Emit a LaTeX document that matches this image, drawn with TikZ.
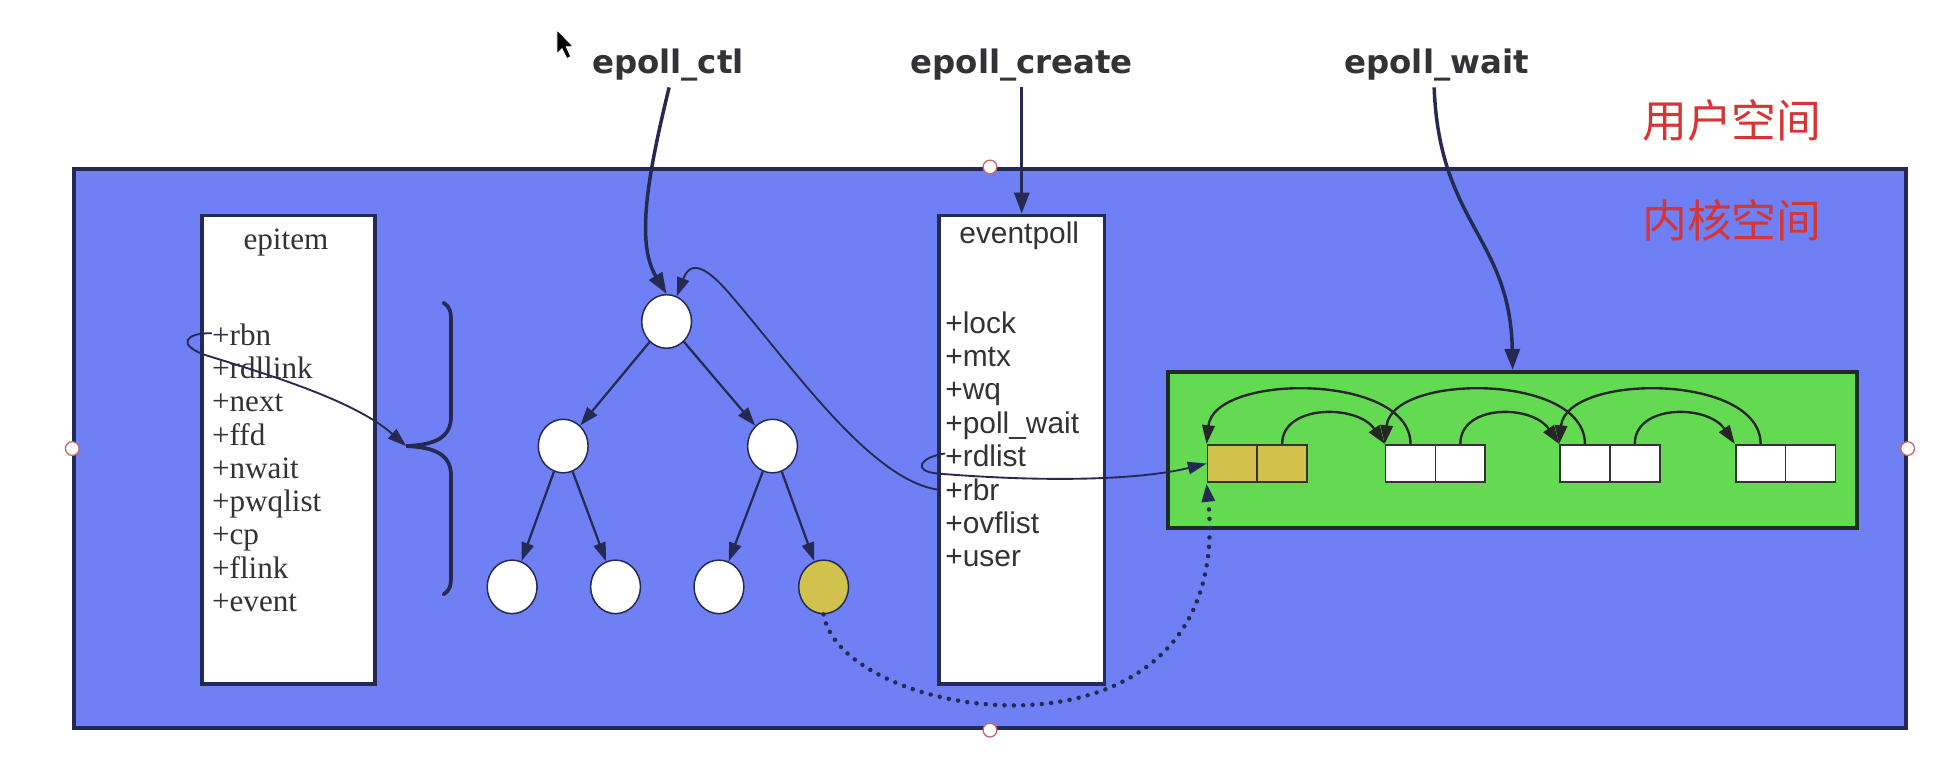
\documentclass[tikz,border=0pt]{standalone}
\usepackage{fontspec}
\setmainfont{Liberation Sans}
\newfontfamily\titlefont{DejaVu Sans}
\newfontfamily\itemfont{Liberation Serif}
\newfontfamily\cjk{Noto Sans CJK SC}
\usetikzlibrary{arrows.meta,calc,shapes.geometric}
\definecolor{bluebg}{RGB}{110,128,243}
\definecolor{navy}{RGB}{38,42,82}
\definecolor{greenbg}{RGB}{99,218,82}
\definecolor{greenline}{RGB}{30,45,35}
\definecolor{yel}{RGB}{208,194,76}
\definecolor{redtxt}{RGB}{215,52,52}
\definecolor{txt}{RGB}{50,50,55}
\definecolor{handlecol}{RGB}{205,100,100}
\begin{document}
\begin{tikzpicture}[x=1pt,y=-1pt,
  tipA/.style={-{Triangle[length=17pt,width=12pt]}},
  tipB/.style={-{Triangle[length=15pt,width=10pt]}},
  call/.style={draw=navy,line width=2.8pt,tipA},
  tree/.style={draw=navy,line width=1.8pt,tipB},
  thinlink/.style={draw=navy,line width=1.5pt,tipB},
  link/.style={draw=black!85,line width=1.9pt,tipB},
  dotline/.style={draw=navy,line width=3.6pt,line cap=round,dash pattern=on 0pt off 7.5pt,tipB},
  fnlabel/.style={font=\titlefont\bfseries\fontsize{26}{30}\selectfont, text=txt, inner sep=0},
  cjklabel/.style={font=\cjk\fontsize{36}{40}\selectfont, text=redtxt, inner sep=0},
  structbox/.style={draw=navy, fill=white, line width=3pt, inner sep=0, anchor=north west},
  eptext/.style={font=\itemfont\fontsize{25}{27}\selectfont, text=txt, inner sep=0},
  evtext/.style={font=\fontsize{24}{27}\selectfont, text=txt, inner sep=0},
  rbnode/.style={ellipse, draw=navy, fill=white, line width=1.2pt, minimum width=40pt, minimum height=43pt, inner sep=0},
  cell/.style={draw=black!80, line width=1.4pt, minimum width=40pt, minimum height=30pt, inner sep=0, fill=white},
  handlept/.style={circle, draw=handlecol, fill=white, line width=1pt, minimum size=11pt, inner sep=0},
]
\useasboundingbox (0,0) rectangle (1565,613);

% kernel space
\node[draw=navy, fill=bluebg, line width=3pt, minimum width=1470pt, minimum height=449pt, inner sep=0, anchor=north west] (kernel) at (58,134) {};
\node[handlept] (hn) at (kernel.north) {};
\node[handlept] (hs) at (kernel.south) {};
\node[handlept] (hw) at (kernel.west) {};
\node[handlept] (he) at (kernel.east) {};

% labels
\node[cjklabel] (userlbl) at (1390,97) {用户空间};
\node[cjklabel] (kernlbl) at (1390,177) {内核空间};
\node[fnlabel] (ctl) at (536,52) {epoll\_ctl};
\node[fnlabel] (create) at (820,52) {epoll\_create};
\node[fnlabel] (wait) at (1153,52) {epoll\_wait};

% cursor
\draw[fill=black, draw=white, line width=0.6pt] (447,24) -- (447,43) -- (451,39) -- (455,47) -- (458,45.5) -- (454.5,37.5) -- (460,37.5) -- cycle;

% epitem
\node[structbox, minimum width=139pt, minimum height=376pt] (epitem) at (160.5,171.5) {};
\node[eptext, anchor=base] (eptitle) at (229.5,200.5) {epitem};
\node[eptext, anchor=base west] (rbn) at (170,277) {+rbn};
\node[eptext, anchor=base west] (rdllink) at (170,303.8) {+rdllink};
\node[eptext, anchor=base west] (next) at (170,330.5) {+next};
\node[eptext, anchor=base west] (ffd) at (170,357.2) {+ffd};
\node[eptext, anchor=base west] (nwait) at (170,383.9) {+nwait};
\node[eptext, anchor=base west] (pwqlist) at (170,410.6) {+pwqlist};
\node[eptext, anchor=base west] (cp) at (170,437.3) {+cp};
\node[eptext, anchor=base west] (flink) at (170,464) {+flink};
\node[eptext, anchor=base west] (event) at (170,490.7) {+event};

% eventpoll
\node[structbox, minimum width=133pt, minimum height=376pt] (eventpoll) at (752,171.5) {};
\node[evtext, anchor=base] (evtitle) at (818,195.3) {eventpoll};
\node[evtext, anchor=base west] (lock) at (758.5,267.5) {+lock};
\node[evtext, anchor=base west] (mtx) at (758.5,294.3) {+mtx};
\node[evtext, anchor=base west] (wq) at (758.5,321) {+wq};
\node[evtext, anchor=base west] (pollwait) at (758.5,347.7) {+poll\_wait};
\node[evtext, anchor=base west] (rdlist) at (758.5,374.5) {+rdlist};
\node[evtext, anchor=base west] (rbr) at (758.5,401.5) {+rbr};
\node[evtext, anchor=base west] (ovflist) at (758.5,428) {+ovflist};
\node[evtext, anchor=base west] (user) at (758.5,454.8) {+user};

% brace
\coordinate (btip) at (326,358);
\draw[navy, line width=3pt, line cap=round]
  (356,243) .. controls (361,246) and (362,250) .. (362,258) -- (362,334)
  .. controls (362,352) and (348,357) .. (btip)
  .. controls (348,359) and (362,364) .. (362,382) -- (362,462)
  .. controls (362,470) and (361,474) .. (356,477);

% red-black tree
\node[rbnode] (root) at (535,258) {};
\node[rbnode] (n1) at (452,358) {};
\node[rbnode] (n2) at (620,358) {};
\node[rbnode] (n3) at (411,471) {};
\node[rbnode] (n4) at (494,471) {};
\node[rbnode] (n5) at (577,471) {};
\node[rbnode, fill=yel] (n6) at (661,471) {};
\draw[tree] (root) -- (n1);
\draw[tree] (root) -- (n2);
\draw[tree] (n1) -- (n3);
\draw[tree] (n1) -- (n4);
\draw[tree] (n2) -- (n5);
\draw[tree] (n2) -- (n6);

% ready list
\node[draw=greenline, fill=greenbg, line width=3pt, minimum width=553pt, minimum height=125pt, inner sep=0, anchor=north west] (green) at (936,297) {};
\node[cell, fill=yel] (p1a) at (989,372) {};
\node[cell, fill=yel] (p1b) at (1029,372) {};
\node[cell] (p2a) at (1132,372) {};
\node[cell] (p2b) at (1172,372) {};
\node[cell] (p3a) at (1272,372) {};
\node[cell] (p3b) at (1312,372) {};
\node[cell] (p4a) at (1413,372) {};
\node[cell] (p4b) at (1453,372) {};
\draw[link] (p1b.north) .. controls +(0,-32) and +(-22,-32) .. (p2a.north west);
\draw[link] (p2a.north) .. controls +(0,-57) and +(6,-57) .. (p1a.north west);
\draw[link] (p2b.north) .. controls +(0,-32) and +(-22,-32) .. (p3a.north west);
\draw[link] (p3a.north) .. controls +(0,-57) and +(6,-57) .. (p2a.north west);
\draw[link] (p3b.north) .. controls +(0,-32) and +(-22,-32) .. (p4a.north west);
\draw[link] (p4a.north) .. controls +(0,-57) and +(6,-57) .. (p3a.north west);

% system calls
\draw[call] ($(ctl.south)+(1,5)$) .. controls (520,140) and (510,195) .. (root.north);
\draw[call] ($(create.south)+(0,5)$) -- (create.south |- eventpoll.north);
\draw[call] ($(wait.south)+(-2,5)$) .. controls (1155,180) and (1212,190) .. (green.north);

% pointers
\draw[thinlink] ($(rbn.west)+(0,-1)$) .. controls (148,267) and (142,277) .. (165,285) .. controls (220,302) and (285,322) .. (btip);
\draw[thinlink] ($(rbr.west)+(-6,0)$) .. controls (700,385) and (640,300) .. (590,241) .. controls (575,223) and (556,203) .. (root.68);
\draw[thinlink] ($(rdlist.west)+(0,-2)$) .. controls (738,367) and (732,378) .. (752,380) .. controls (850,388) and (920,384) .. (p1a.west);
\draw[dotline] (n6.south) .. controls (675,580) and (992,630) .. (p1a.south west);
\end{tikzpicture}
\end{document}
